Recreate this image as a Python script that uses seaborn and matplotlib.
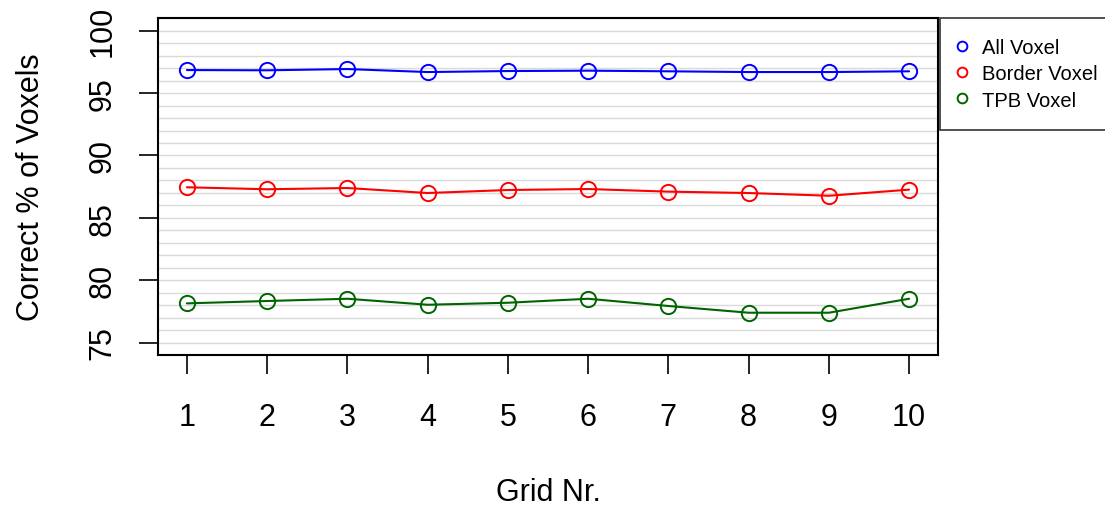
import matplotlib
matplotlib.use('Agg')
import matplotlib.pyplot as plt
import pandas as pd
import seaborn as sns
from matplotlib.lines import Line2D

grid_nr = [1, 2, 3, 4, 5, 6, 7, 8, 9, 10]
all_voxel = [96.85, 96.83, 96.93, 96.69, 96.77, 96.80, 96.75, 96.69, 96.69, 96.75]
border_voxel = [87.45, 87.29, 87.39, 86.99, 87.23, 87.31, 87.10, 86.99, 86.77, 87.26]
tpb_voxel = [78.14, 78.33, 78.51, 78.03, 78.19, 78.51, 77.93, 77.39, 77.39, 78.51]

series_names = ['All Voxel', 'Border Voxel', 'TPB Voxel']
series_colors = ['#0000FF', '#FF0000', '#006400']
y_ticks = [75, 80, 85, 90, 95, 100]


def main():
    sns.set_style('white')
    plt.rcParams['font.family'] = ['Liberation Sans', 'DejaVu Sans']
    plt.rcParams['text.color'] = 'black'
    plt.rcParams['axes.labelcolor'] = 'black'
    plt.rcParams['xtick.color'] = 'black'
    plt.rcParams['ytick.color'] = 'black'

    df = pd.DataFrame({
        'grid': grid_nr * 3,
        'value': all_voxel + border_voxel + tpb_voxel,
        'series': [s for s in series_names for _ in grid_nr],
    })

    fig = plt.figure(figsize=(11.05, 5.10), dpi=100)
    ax = fig.add_axes([158 / 1105, 1 - 356 / 510, 780 / 1105, 336.7 / 510])

    for name, color in zip(series_names, series_colors):
        sns.lineplot(
            x='grid', y='value', data=df[df['series'] == name],
            color=color, marker='o', markersize=11, markerfacecolor='none',
            markeredgecolor=color, markeredgewidth=1.4, linewidth=1.5,
            ax=ax, legend=False, zorder=3,
        )

    ax.set_xlim(0.64, 10.36)
    ax.set_ylim(74, 101)
    ax.set_xticks(grid_nr)
    ax.set_yticks(y_ticks)
    ax.set_yticks(range(74, 102), minor=True)
    ax.grid(True, axis='y', which='both', color='#DADADA', linewidth=1.0, zorder=0)
    ax.tick_params(axis='both', which='major', direction='out', length=14,
                   width=1.2, color='black', labelsize=22, labelcolor='black',
                   bottom=True, left=True)
    ax.tick_params(axis='x', pad=20)
    ax.tick_params(axis='y', pad=15)
    ax.tick_params(axis='y', which='minor', length=0)
    for lab in ax.get_yticklabels():
        lab.set_rotation(90)
        lab.set_va('center')
    for spine in ax.spines.values():
        spine.set_color('black')
        spine.set_linewidth(1.5)

    ax.set_xlabel('Grid Nr.', fontsize=22, color='black')
    ax.set_ylabel('Correct % of Voxels', fontsize=22, color='black')
    ax.xaxis.set_label_coords(0.5, (356 - 493) / 336.7)
    ax.xaxis.label.set_va('center')
    ax.yaxis.set_label_coords((31 - 158) / 780, 0.5)
    ax.yaxis.label.set_va('center')

    handles = [
        Line2D([], [], linestyle='none', marker='o', markersize=7,
               markerfacecolor='none', markeredgecolor=c, markeredgewidth=1.4)
        for c in series_colors
    ]
    leg = ax.legend(
        handles, series_names, loc='upper left', mode='expand',
        bbox_to_anchor=(1.0026, 0, 0.24, 1.0), borderaxespad=0,
        fontsize=14.5, frameon=True, fancybox=False, handlelength=0.2,
        handletextpad=0.9, labelspacing=0.35, borderpad=1.0,
    )
    leg.get_frame().set_edgecolor('black')
    leg.get_frame().set_linewidth(1.2)

    plt.savefig('out.png', dpi=100)
    plt.close(fig)


if __name__ == '__main__':
    main()
